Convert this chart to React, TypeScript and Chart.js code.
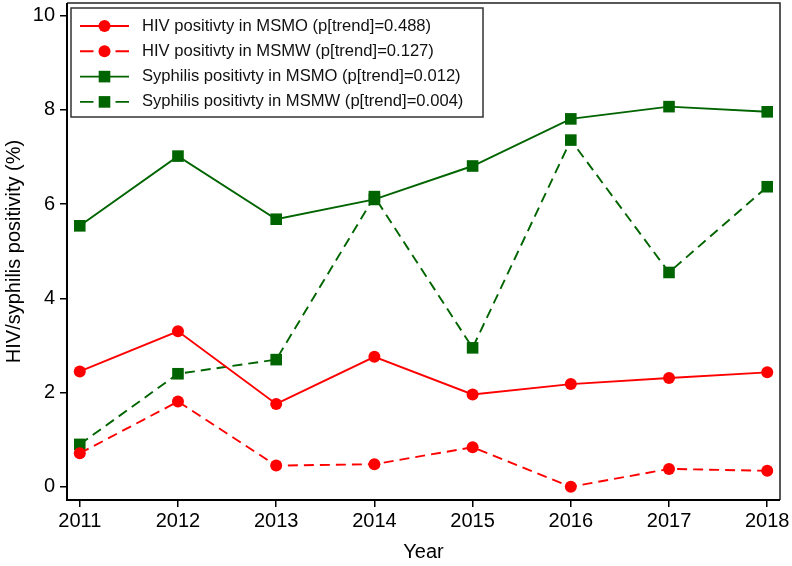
import React, { useEffect, useRef } from 'react';
import { Chart, registerables } from 'chart.js';

Chart.register(...registerables);

const years = [2011, 2012, 2013, 2014, 2015, 2016, 2017, 2018];
const hivMSMO = [2.45, 3.3, 1.76, 2.76, 1.96, 2.18, 2.31, 2.43];
const hivMSMW = [0.71, 1.81, 0.45, 0.48, 0.84, 0.0, 0.38, 0.34];
const syphMSMO = [5.54, 7.02, 5.68, 6.1, 6.81, 7.81, 8.07, 7.96];
const syphMSMW = [0.9, 2.4, 2.7, 6.16, 2.95, 7.36, 4.55, 6.37];
const seriesLabels = [
  'HIV positivty in MSMO (p[trend]=0.488)',
  'HIV positivty in MSMW (p[trend]=0.127)',
  'Syphilis positivty in MSMO (p[trend]=0.012)',
  'Syphilis positivty in MSMW (p[trend]=0.004)',
];
const yTicks = [0, 2, 4, 6, 8, 10];
const xTitle = 'Year';
const yTitle = 'HIV/syphilis positivity (%)';

const RED = '#ff0000';
const GREEN = '#006400';
const FONT = '"Liberation Sans", Arial, sans-serif';

const legendPlugin = {
  id: 'customLegendFrame',
  afterDraw(chart: any) {
    const ctx = chart.ctx;
    const a = chart.chartArea;
    ctx.save();
    // frame
    ctx.strokeStyle = '#222';
    ctx.lineWidth = 1.5;
    ctx.beginPath();
    ctx.moveTo(a.left, a.top);
    ctx.lineTo(a.right, a.top);
    ctx.lineTo(a.right, a.bottom);
    ctx.stroke();
    ctx.strokeStyle = '#000';
    ctx.lineWidth = 2;
    ctx.beginPath();
    ctx.moveTo(a.left, a.top);
    ctx.lineTo(a.left, a.bottom);
    ctx.lineTo(a.right, a.bottom);
    ctx.stroke();

    // legend box
    const bx = a.left + 4;
    const by = a.top + 5;
    const bw = 412;
    const bh = 109;
    ctx.fillStyle = '#fff';
    ctx.fillRect(bx, by, bw, bh);
    ctx.strokeStyle = '#333';
    ctx.lineWidth = 1.5;
    ctx.strokeRect(bx, by, bw, bh);

    chart.data.datasets.forEach((ds: any, i: number) => {
      const y = by + 18 + i * 25.3;
      const x0 = bx + 9;
      const x1 = bx + 58;
      const xm = (x0 + x1) / 2;
      ctx.strokeStyle = ds.borderColor;
      ctx.lineWidth = ds.borderWidth;
      ctx.beginPath();
      if (ds.borderDash && ds.borderDash.length) {
        ctx.moveTo(x0, y);
        ctx.lineTo(xm - 11, y);
        ctx.moveTo(xm + 11, y);
        ctx.lineTo(x1, y);
      } else {
        ctx.moveTo(x0, y);
        ctx.lineTo(x1, y);
      }
      ctx.stroke();
      ctx.fillStyle = ds.pointBackgroundColor;
      if (ds.pointStyle === 'rect') {
        const s = 5.8;
        ctx.fillRect(xm - s, y - s, 2 * s, 2 * s);
      } else {
        ctx.beginPath();
        ctx.arc(xm, y, 6, 0, Math.PI * 2);
        ctx.fill();
      }
      ctx.fillStyle = '#111';
      ctx.font = `16.6px ${FONT}`;
      ctx.textBaseline = 'middle';
      ctx.textAlign = 'left';
      ctx.fillText(ds.label, bx + 71, y);
    });
    ctx.restore();
  },
};

export default function App() {
  const ref = useRef<HTMLCanvasElement>(null);
  useEffect(() => {
    document.body.style.margin = '0';
    const canvas = ref.current!;
    const mk = (label: string, data: number[], color: string, dashed: boolean, square: boolean) => ({
      label,
      data: years.map((yr, i) => ({ x: yr, y: data[i] })),
      borderColor: color,
      backgroundColor: color,
      pointBackgroundColor: color,
      pointBorderColor: color,
      borderWidth: 1.9,
      borderDash: dashed ? [10, 6] : [],
      pointStyle: square ? 'rect' : 'circle',
      pointRadius: square ? 8.2 : 6,
      pointBorderWidth: 0,
      tension: 0,
      fill: false,
    });
    const chart = new Chart(canvas, {
      type: 'line',
      data: {
        datasets: [
          mk(seriesLabels[0], hivMSMO, RED, false, false),
          mk(seriesLabels[1], hivMSMW, RED, true, false),
          mk(seriesLabels[2], syphMSMO, GREEN, false, true),
          mk(seriesLabels[3], syphMSMW, GREEN, true, true),
        ] as any,
      },
      options: {
        responsive: false,
        animation: false,
        layout: { autoPadding: false, padding: { left: 0, right: 12, top: 3, bottom: 0 } },
        plugins: { legend: { display: false }, tooltip: { enabled: false } },
        scales: {
          x: {
            type: 'linear',
            min: 2010.87,
            max: 2018.13,
            afterBuildTicks: (s: any) => {
              s.ticks = years.map((v) => ({ value: v }));
            },
            afterFit: (s: any) => {
              s.height = 66;
              s.paddingLeft = 0;
              s.paddingRight = 0;
            },
            grid: { display: true, drawOnChartArea: false, drawTicks: true, tickLength: 7, color: '#000', lineWidth: 1.5 },
            border: { display: false },
            ticks: {
              font: { family: FONT, size: 20 },
              color: '#000',
              padding: 2,
              maxRotation: 0,
              autoSkip: false,
              callback: (v: any) => String(v),
            },
            title: {
              display: true,
              text: xTitle,
              font: { family: FONT, size: 20 },
              color: '#000',
              padding: { top: 0, bottom: 2 },
            },
          },
          y: {
            type: 'linear',
            min: -0.28,
            max: 10.27,
            afterBuildTicks: (s: any) => {
              s.ticks = yTicks.map((v) => ({ value: v }));
            },
            afterFit: (s: any) => {
              s.width = 67;
              s.paddingTop = 0;
              s.paddingBottom = 0;
            },
            grid: { display: true, drawOnChartArea: false, drawTicks: true, tickLength: 7, color: '#000', lineWidth: 1.5 },
            border: { display: false },
            ticks: {
              font: { family: FONT, size: 20 },
              color: '#000',
              padding: 5,
              callback: (v: any) => String(v),
            },
            title: {
              display: true,
              text: yTitle,
              font: { family: FONT, size: 20 },
              color: '#000',
              padding: { top: 2, bottom: 0 },
            },
          },
        },
      },
      plugins: [legendPlugin],
    } as any);
    return () => chart.destroy();
  }, []);
  return (
    <div style={{ width: 792, height: 566 }}>
      <canvas ref={ref} width={792} height={566} style={{ display: 'block' }} />
    </div>
  );
}
